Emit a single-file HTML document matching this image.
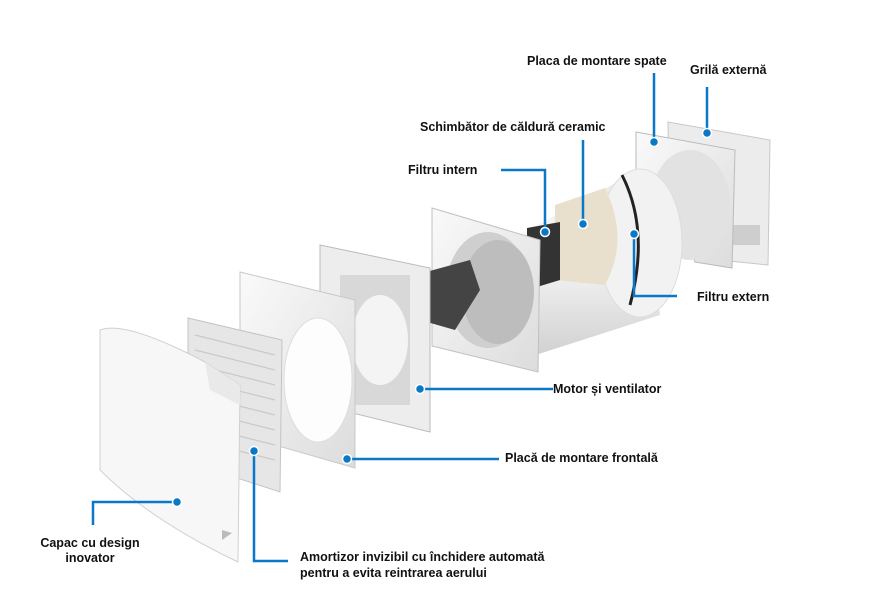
<!DOCTYPE html>
<html><head><meta charset="utf-8"><style>
html,body{margin:0;padding:0;background:#fff;}
svg{display:block}
text{font-family:"Liberation Sans",Arial,sans-serif;font-weight:bold;font-size:12.5px;fill:#111}
</style></head><body>
<svg width="877" height="608" viewBox="0 0 877 608" xmlns="http://www.w3.org/2000/svg">
<defs>
<linearGradient id="g1" x1="0" y1="0" x2="1" y2="1"><stop offset="0" stop-color="#fafafa"/><stop offset="1" stop-color="#dcdcdc"/></linearGradient>
<linearGradient id="cyl" x1="0" y1="0" x2="0" y2="1"><stop offset="0" stop-color="#e4e4e4"/><stop offset="0.4" stop-color="#fbfbfb"/><stop offset="1" stop-color="#cfcfcf"/></linearGradient>
</defs>
<!-- back grille -->
<polygon points="668,122 770,140 768,265 700,258 690,245 670,240" fill="#ececec" stroke="#c8c8c8"/>
<rect x="720" y="225" width="40" height="20" fill="#bbb" opacity="0.6"/>
<!-- back plate -->
<polygon points="636,132 735,150 732,268 695,262 690,248 636,240" fill="url(#g1)" stroke="#bbb"/>
<ellipse cx="690" cy="205" rx="40" ry="55" fill="#e2e2e2"/>
<!-- cylinder -->
<polygon points="500,245 640,170 660,315 520,360" fill="url(#cyl)"/>
<ellipse cx="640" cy="243" rx="42" ry="74" fill="#f2f2f2" stroke="#ddd"/>
<path d="M622 175 Q650 230 630 305" stroke="#222" stroke-width="3" fill="none"/>
<path d="M555 205 L605 188 Q630 240 605 285 L555 280 Z" fill="#e8e0cc"/>
<polygon points="527,228 560,222 560,280 527,290" fill="#333"/>
<!-- inner plate -->
<polygon points="432,208 540,240 538,372 432,346" fill="url(#g1)" stroke="#c0c0c0"/>
<ellipse cx="488" cy="290" rx="42" ry="58" fill="#cfcfcf"/>
<ellipse cx="498" cy="292" rx="36" ry="52" fill="#bdbdbd"/>
<!-- fan -->
<path d="M415 275 L470 260 L480 290 L455 330 L420 320 Z" fill="#444"/>
<!-- motor frame -->
<polygon points="320,245 430,268 430,432 320,405" fill="#ededed" stroke="#bbb"/>
<rect x="340" y="275" width="70" height="130" fill="#d8d8d8"/>
<ellipse cx="380" cy="340" rx="28" ry="45" fill="#f4f4f4"/>
<!-- frame -->
<polygon points="240,272 355,300 355,468 240,435" fill="url(#g1)" stroke="#c8c8c8"/>
<ellipse cx="318" cy="380" rx="34" ry="62" fill="#fdfdfd" stroke="#ddd"/>
<!-- grille -->
<polygon points="188,318 282,340 280,492 188,462" fill="#e6e6e6" stroke="#c4c4c4"/>
<g stroke="#c9c9c9" stroke-width="1.2">
<line x1="195" y1="335" x2="275" y2="355"/><line x1="195" y1="350" x2="275" y2="370"/><line x1="195" y1="365" x2="275" y2="385"/><line x1="195" y1="380" x2="275" y2="400"/><line x1="195" y1="395" x2="275" y2="415"/><line x1="195" y1="410" x2="275" y2="430"/><line x1="195" y1="425" x2="275" y2="445"/><line x1="195" y1="440" x2="275" y2="460"/>
</g>
<!-- cover -->
<path d="M100,330 Q125,320 205,362 L240,385 L238,562 Q150,520 100,470 Z" fill="#f7f7f7" stroke="#d0d0d0"/>
<path d="M205,362 L240,385 L240,405 L210,390 Z" fill="#e9e9e9"/>
<polygon points="222,530 232,533 222,540" fill="#bbb"/>
<!-- connectors -->
<g stroke="#0a78c8" stroke-width="2.5" fill="none">
<polyline points="654,73 654,142"/>
<polyline points="707,87 707,133"/>
<polyline points="583,140 583,224"/>
<polyline points="501,170 545,170 545,232"/>
<polyline points="634,234 634,296 677,296"/>
<polyline points="420,389 553,389"/>
<polyline points="347,459 499,459"/>
<polyline points="254,451 254,561 288,561"/>
<polyline points="177,502 93,502 93,525"/>
</g>
<g fill="#0a78c8" stroke="#fff" stroke-width="1.5">
<circle cx="654" cy="142" r="4.5"/><circle cx="707" cy="133" r="4.5"/><circle cx="583" cy="224" r="4.5"/>
<circle cx="545" cy="232" r="4.5"/><circle cx="634" cy="234" r="4.5"/><circle cx="420" cy="389" r="4.5"/>
<circle cx="347" cy="459" r="4.5"/><circle cx="254" cy="451" r="4.5"/><circle cx="177" cy="502" r="4.5"/>
</g>
<text x="527" y="65">Placa de montare spate</text>
<text x="690" y="74">Grilă externă</text>
<text x="420" y="131">Schimbător de căldură ceramic</text>
<text x="408" y="174">Filtru intern</text>
<text x="697" y="301">Filtru extern</text>
<text x="553" y="393">Motor și ventilator</text>
<text x="505" y="462">Placă de montare frontală</text>
<text x="300" y="561">Amortizor invizibil cu închidere automată</text>
<text x="300" y="577">pentru a evita reintrarea aerului</text>
<text x="90" y="547" text-anchor="middle">Capac cu design</text>
<text x="90" y="562" text-anchor="middle">inovator</text>
</svg>
</body></html>
